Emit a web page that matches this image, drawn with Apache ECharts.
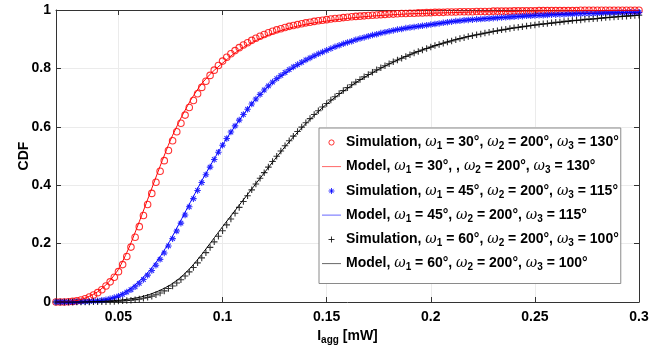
<!DOCTYPE html>
<html>
<head>
<meta charset="utf-8">
<script src="https://cdn.jsdelivr.net/npm/echarts@6/dist/echarts.min.js"></script>
<style>
  html, body { margin: 0; padding: 0; background: #fff; }
  #main { width: 665px; height: 353px; }
</style>
</head>
<body>
<div id="main"></div>
<script>
// simulation samples, every 0.002 mW
const simX = [
  0.020, 0.022, 0.024, 0.026, 0.028, 0.030, 0.032, 0.034, 0.036, 0.038,
  0.040, 0.042, 0.044, 0.046, 0.048, 0.050, 0.052, 0.054, 0.056, 0.058,
  0.060, 0.062, 0.064, 0.066, 0.068, 0.070, 0.072, 0.074, 0.076, 0.078,
  0.080, 0.082, 0.084, 0.086, 0.088, 0.090, 0.092, 0.094, 0.096, 0.098,
  0.100, 0.102, 0.104, 0.106, 0.108, 0.110, 0.112, 0.114, 0.116, 0.118,
  0.120, 0.122, 0.124, 0.126, 0.128, 0.130, 0.132, 0.134, 0.136, 0.138,
  0.140, 0.142, 0.144, 0.146, 0.148, 0.150, 0.152, 0.154, 0.156, 0.158,
  0.160, 0.162, 0.164, 0.166, 0.168, 0.170, 0.172, 0.174, 0.176, 0.178,
  0.180, 0.182, 0.184, 0.186, 0.188, 0.190, 0.192, 0.194, 0.196, 0.198,
  0.200, 0.202, 0.204, 0.206, 0.208, 0.210, 0.212, 0.214, 0.216, 0.218,
  0.220, 0.222, 0.224, 0.226, 0.228, 0.230, 0.232, 0.234, 0.236, 0.238,
  0.240, 0.242, 0.244, 0.246, 0.248, 0.250, 0.252, 0.254, 0.256, 0.258,
  0.260, 0.262, 0.264, 0.266, 0.268, 0.270, 0.272, 0.274, 0.276, 0.278,
  0.280, 0.282, 0.284, 0.286, 0.288, 0.290, 0.292, 0.294, 0.296, 0.298,
  0.300
];
const redSim = [
  0.000, 0.000, 0.000, 0.001, 0.002, 0.004, 0.007, 0.011, 0.017, 0.024,
  0.032, 0.042, 0.055, 0.069, 0.085, 0.104, 0.128, 0.156, 0.188, 0.222,
  0.258, 0.296, 0.334, 0.372, 0.410, 0.448, 0.484, 0.519, 0.552, 0.583,
  0.612, 0.640, 0.666, 0.690, 0.713, 0.735, 0.756, 0.776, 0.794, 0.810,
  0.825, 0.838, 0.850, 0.861, 0.871, 0.880, 0.888, 0.896, 0.903, 0.910,
  0.916, 0.922, 0.927, 0.932, 0.936, 0.940, 0.944, 0.947, 0.950, 0.953,
  0.956, 0.958, 0.961, 0.963, 0.965, 0.967, 0.969, 0.971, 0.972, 0.974,
  0.975, 0.977, 0.978, 0.979, 0.980, 0.981, 0.982, 0.983, 0.984, 0.985,
  0.986, 0.986, 0.987, 0.988, 0.988, 0.989, 0.989, 0.990, 0.990, 0.991,
  0.991, 0.992, 0.992, 0.992, 0.993, 0.993, 0.993, 0.994, 0.994, 0.994,
  0.994, 0.995, 0.995, 0.995, 0.995, 0.996, 0.996, 0.996, 0.996, 0.996,
  0.997, 0.997, 0.997, 0.997, 0.997, 0.997, 0.998, 0.998, 0.998, 0.998,
  0.998, 0.998, 0.998, 0.998, 0.998, 0.998, 0.999, 0.999, 0.999, 0.999,
  0.999, 0.999, 0.999, 0.999, 0.999, 0.999, 0.999, 0.999, 0.999, 0.999,
  0.999
];
const blueSim = [
  0.000, 0.000, 0.000, 0.000, 0.000, 0.001, 0.001, 0.001, 0.002, 0.003,
  0.004, 0.006, 0.008, 0.011, 0.015, 0.020, 0.026, 0.034, 0.042, 0.052,
  0.064, 0.077, 0.092, 0.108, 0.126, 0.146, 0.168, 0.192, 0.217, 0.243,
  0.270, 0.298, 0.326, 0.354, 0.382, 0.409, 0.436, 0.462, 0.488, 0.513,
  0.537, 0.560, 0.582, 0.603, 0.623, 0.642, 0.660, 0.678, 0.695, 0.711,
  0.726, 0.740, 0.753, 0.765, 0.776, 0.786, 0.796, 0.805, 0.813, 0.821,
  0.829, 0.836, 0.843, 0.850, 0.856, 0.862, 0.868, 0.874, 0.879, 0.884,
  0.889, 0.893, 0.898, 0.902, 0.906, 0.910, 0.914, 0.917, 0.921, 0.924,
  0.927, 0.930, 0.933, 0.935, 0.938, 0.940, 0.942, 0.944, 0.946, 0.948,
  0.950, 0.952, 0.954, 0.956, 0.958, 0.960, 0.962, 0.963, 0.965, 0.966,
  0.967, 0.968, 0.969, 0.970, 0.971, 0.972, 0.973, 0.974, 0.975, 0.976,
  0.977, 0.978, 0.979, 0.980, 0.980, 0.981, 0.982, 0.982, 0.983, 0.984,
  0.984, 0.985, 0.985, 0.986, 0.986, 0.987, 0.987, 0.988, 0.988, 0.988,
  0.989, 0.989, 0.990, 0.990, 0.990, 0.991, 0.991, 0.991, 0.992, 0.992,
  0.992
];
const blackSim = [
  0.000, 0.000, 0.000, 0.000, 0.000, 0.000, 0.000, 0.000, 0.000, 0.001,
  0.001, 0.001, 0.001, 0.002, 0.002, 0.003, 0.004, 0.005, 0.006, 0.008,
  0.010, 0.013, 0.016, 0.020, 0.025, 0.031, 0.038, 0.046, 0.055, 0.065,
  0.076, 0.089, 0.103, 0.118, 0.134, 0.151, 0.169, 0.187, 0.206, 0.225,
  0.244, 0.264, 0.284, 0.304, 0.324, 0.344, 0.364, 0.384, 0.404, 0.424,
  0.443, 0.462, 0.481, 0.499, 0.517, 0.535, 0.552, 0.568, 0.584, 0.599,
  0.614, 0.628, 0.642, 0.655, 0.668, 0.680, 0.692, 0.703, 0.714, 0.724,
  0.734, 0.744, 0.753, 0.762, 0.771, 0.779, 0.787, 0.795, 0.802, 0.809,
  0.816, 0.823, 0.829, 0.835, 0.841, 0.847, 0.853, 0.858, 0.863, 0.868,
  0.873, 0.878, 0.882, 0.886, 0.890, 0.894, 0.898, 0.902, 0.905, 0.909,
  0.912, 0.915, 0.918, 0.921, 0.924, 0.927, 0.929, 0.932, 0.934, 0.937,
  0.939, 0.941, 0.943, 0.945, 0.947, 0.949, 0.951, 0.953, 0.954, 0.956,
  0.958, 0.959, 0.961, 0.962, 0.964, 0.965, 0.966, 0.968, 0.969, 0.970,
  0.971, 0.973, 0.974, 0.975, 0.976, 0.977, 0.978, 0.979, 0.980, 0.981,
  0.982
];

// model curves, every 0.005 mW
const modelX = [
  0.020, 0.025, 0.030, 0.035, 0.040, 0.045, 0.050, 0.055, 0.060, 0.065,
  0.070, 0.075, 0.080, 0.085, 0.090, 0.095, 0.100, 0.105, 0.110, 0.115,
  0.120, 0.125, 0.130, 0.135, 0.140, 0.145, 0.150, 0.155, 0.160, 0.165,
  0.170, 0.175, 0.180, 0.185, 0.190, 0.195, 0.200, 0.205, 0.210, 0.215,
  0.220, 0.225, 0.230, 0.235, 0.240, 0.245, 0.250, 0.255, 0.260, 0.265,
  0.270, 0.275, 0.280, 0.285, 0.290, 0.295, 0.300
];
const redModel = [
  0.000, 0.001, 0.005, 0.016, 0.035, 0.066, 0.112, 0.185, 0.275, 0.370,
  0.465, 0.555, 0.630, 0.695, 0.748, 0.787, 0.818, 0.848, 0.872, 0.892,
  0.908, 0.922, 0.934, 0.943, 0.951, 0.957, 0.962, 0.967, 0.971, 0.975,
  0.978, 0.981, 0.983, 0.985, 0.987, 0.988, 0.989, 0.990, 0.991, 0.992,
  0.993, 0.994, 0.994, 0.995, 0.995, 0.996, 0.996, 0.997, 0.997, 0.997,
  0.998, 0.998, 0.998, 0.998, 0.999, 0.999, 0.999
];
const blueModel = [
  0.000, 0.000, 0.001, 0.002, 0.004, 0.009, 0.021, 0.042, 0.071, 0.108,
  0.155, 0.213, 0.280, 0.348, 0.415, 0.478, 0.538, 0.592, 0.642, 0.688,
  0.725, 0.757, 0.783, 0.806, 0.826, 0.845, 0.862, 0.876, 0.889, 0.900,
  0.910, 0.919, 0.927, 0.934, 0.940, 0.945, 0.950, 0.955, 0.960, 0.964,
  0.967, 0.970, 0.973, 0.975, 0.977, 0.979, 0.981, 0.983, 0.984, 0.986,
  0.987, 0.988, 0.989, 0.990, 0.991, 0.992, 0.992
];
const blackModel = [
  0.000, 0.000, 0.000, 0.001, 0.002, 0.003, 0.006, 0.010, 0.016, 0.026,
  0.040, 0.059, 0.085, 0.120, 0.163, 0.210, 0.258, 0.304, 0.350, 0.396,
  0.442, 0.488, 0.532, 0.573, 0.611, 0.646, 0.678, 0.706, 0.732, 0.756,
  0.777, 0.797, 0.815, 0.832, 0.847, 0.861, 0.873, 0.885, 0.895, 0.904,
  0.912, 0.919, 0.926, 0.932, 0.938, 0.943, 0.948, 0.952, 0.956, 0.960,
  0.964, 0.967, 0.970, 0.974, 0.977, 0.980, 0.982
];

const xTicks = [0.05, 0.1, 0.15, 0.2, 0.25, 0.3];

// legend entries: kind, w1, w2, w3, extra comma (as in the original)
const legendRows = [
  ['Simulation', 30, 200, 130, false],
  ['Model', 30, 200, 130, true],
  ['Simulation', 45, 200, 115, false],
  ['Model', 45, 200, 115, false],
  ['Simulation', 60, 200, 100, false],
  ['Model', 60, 200, 100, false]
];

const FONT = '"Liberation Sans", Arial, sans-serif';
const names = legendRows.map((r, i) => 'row' + i);

function richLabel(r) {
  return '{t|' + r[0] + ', }{w|ω}{s|1}{t| = ' + r[1] + '°, ' + (r[4] ? ', ' : '') +
    '}{w|ω}{s|2}{t| = ' + r[2] + '°, }{w|ω}{s|3}{t| = ' + r[3] + '°}';
}

function pairs(xs, ys) {
  return xs.map((x, i) => [x, ys[i]]);
}

const circleSym = 'path://M1,0 A1,1 0 1,1 -1,0 A1,1 0 1,1 1,0 Z';
const starSym = 'path://M0,-1 L0,1 M-1,0 L1,0 M-0.7,-0.7 L0.7,0.7 M-0.7,0.7 L0.7,-0.7';
const plusSym = 'path://M0,-1 L0,1 M-1,0 L1,0';
// legend icons padded so the marker stays small inside the icon box
const circleIcon = 'path://M-7,-7 M7,7 M2.6,0 A2.6,2.6 0 1,1 -2.6,0 A2.6,2.6 0 1,1 2.6,0 Z';
const starIcon = 'path://M-7,-7 M7,7 M0,-3 L0,3 M-3,0 L3,0 M-2.1,-2.1 L2.1,2.1 M-2.1,2.1 L2.1,-2.1';
const plusIcon = 'path://M-7,-7 M7,7 M0,-3 L0,3 M-3,0 L3,0';
const lineIcon = 'path://M0,0 M19,14 M0,6.6 L19,6.6 L19,7.6 L0,7.6 Z';

const RED = '#ff0000', BLUE = '#0000ff', BLACK = '#000000';

function simSeries(i, sym, color, ys, size) {
  return {
    name: names[i], type: 'scatter', data: pairs(simX, ys),
    symbol: sym, symbolSize: size,
    itemStyle: { color: 'rgba(0,0,0,0)', borderColor: color, borderWidth: 1.1 },
    emphasis: { disabled: true }, z: 2
  };
}
function modelSeries(i, color, ys) {
  return {
    name: names[i], type: 'line', data: pairs(modelX, ys),
    showSymbol: false, symbol: 'none', smooth: 0.2,
    lineStyle: { color: color, width: 1 }, itemStyle: { color: color },
    emphasis: { disabled: true }, z: 3
  };
}
function simLegend(i, icon, color) {
  return { name: names[i], icon: icon, itemStyle: { color: 'rgba(0,0,0,0)', borderColor: color, borderWidth: 1 } };
}
function modelLegend(i, color) {
  return { name: names[i], icon: lineIcon, itemStyle: { color: color, borderWidth: 0, opacity: 0.6 } };
}

const chart = echarts.init(document.getElementById('main'));
const axisLineStyle = { color: '#333', width: 1 };

chart.setOption({
  animation: false,
  backgroundColor: '#fff',
  grid: { left: 56, right: 26, top: 10, bottom: 51 },
  legend: {
    orient: 'vertical', left: 319, top: 128,
    padding: [7, 2, 11, 3],
    itemWidth: 19, itemHeight: 14, itemGap: 8,
    backgroundColor: '#fff', borderColor: '#8a8a8a', borderWidth: 1,
    selectedMode: false,
    data: [
      simLegend(0, circleIcon, RED),
      modelLegend(1, RED),
      simLegend(2, starIcon, BLUE),
      modelLegend(3, BLUE),
      simLegend(4, plusIcon, BLACK),
      modelLegend(5, BLACK)
    ],
    formatter: name => richLabel(legendRows[names.indexOf(name)]),
    textStyle: {
      rich: {
        t: { fontFamily: FONT, fontWeight: 'bold', fontSize: 14, color: '#000' },
        w: { fontFamily: 'DejaVu Serif, serif', fontStyle: 'italic', fontSize: 14, color: '#000' },
        s: { fontFamily: FONT, fontWeight: 'bold', fontSize: 10, color: '#000', padding: [8, 0, 0, 0] }
      }
    }
  },
  xAxis: [{
    type: 'value', min: 0.02, max: 0.3,
    name: '{b|I}{s|agg}{b| [mW]}', nameLocation: 'middle', nameGap: 20,
    nameTextStyle: {
      rich: {
        b: { fontFamily: FONT, fontWeight: 'bold', fontSize: 14, color: '#000' },
        s: { fontFamily: FONT, fontWeight: 'bold', fontSize: 10, color: '#000', padding: [8, 0, 0, 0] }
      }
    },
    axisLine: { onZero: false, lineStyle: axisLineStyle },
    axisTick: { inside: true, length: 5, customValues: xTicks, lineStyle: axisLineStyle },
    axisLabel: { customValues: xTicks, margin: 8, fontFamily: FONT, fontWeight: 'bold', fontSize: 14, color: '#000' },
    splitLine: { show: true, lineStyle: { color: '#ebebeb', width: 1 } }
  }, {
    type: 'value', position: 'top', min: 0.02, max: 0.3,
    axisLine: { onZero: false, lineStyle: axisLineStyle },
    axisTick: { inside: true, length: 5, customValues: xTicks, lineStyle: axisLineStyle },
    axisLabel: { show: false }, splitLine: { show: false }
  }],
  yAxis: [{
    type: 'value', min: 0, max: 1, interval: 0.2,
    name: 'CDF', nameLocation: 'middle', nameGap: 25, nameMoveOverlap: false,
    nameTextStyle: { fontFamily: FONT, fontWeight: 'bold', fontSize: 14, color: '#000' },
    axisLine: { show: true, onZero: false, lineStyle: axisLineStyle },
    axisTick: { show: true, inside: true, length: 5, lineStyle: axisLineStyle },
    axisLabel: { margin: 5, fontFamily: FONT, fontWeight: 'bold', fontSize: 14, color: '#000' },
    splitLine: { show: true, lineStyle: { color: '#ebebeb', width: 1 } }
  }, {
    type: 'value', position: 'right', min: 0, max: 1, interval: 0.2,
    axisLine: { show: true, onZero: false, lineStyle: axisLineStyle },
    axisTick: { show: true, inside: true, length: 5, lineStyle: axisLineStyle },
    axisLabel: { show: false }, splitLine: { show: false }
  }],
  series: [
    simSeries(0, circleSym, RED, redSim, 6.5),
    modelSeries(1, RED, redModel),
    simSeries(2, starSym, BLUE, blueSim, 6.5),
    modelSeries(3, BLUE, blueModel),
    simSeries(4, plusSym, BLACK, blackSim, 6.5),
    modelSeries(5, BLACK, blackModel)
  ]
});
</script>
</body>
</html>
